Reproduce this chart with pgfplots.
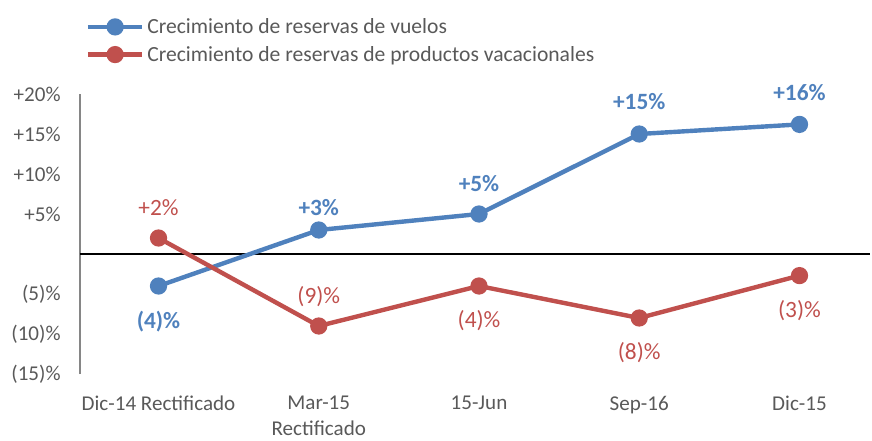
\documentclass[border=0pt]{standalone}
\usepackage{fontspec}
\setmainfont{Carlito}
\usepackage{pgfplots}
\usepackage{pgfplotstable}
\pgfplotsset{compat=1.18}
\definecolor{cblue}{HTML}{4F81BD}
\definecolor{cred}{HTML}{C0504D}
\definecolor{ctext}{HTML}{595959}
\definecolor{caxis}{HTML}{868686}

% x, value, label, vertical offset of label (pt)
\pgfplotstableread{
x y lab dy
0 -4 (4)\% -27
1 3 +3\% 17
2 5 +5\% 23
3 15 +15\% 24
4 16.2 +16\% 24
}\vuelos
\pgfplotstableread{
x y lab dy
0 2 +2\% 23
1 -9 (9)\% 22
2 -4 (4)\% -26
3 -8 (8)\% -26
4 -2.7 (3)\% -26
}\vacaciones

\begin{document}
\begin{tikzpicture}
\begin{axis}[
  at={(0,0)}, anchor=south west,
  scale only axis, width=592.5pt, height=210pt,
  xmin=-0.49, xmax=4.44, ymin=-15, ymax=20,
  axis y line=left, axis x line=bottom,
  x axis line style={draw=none},
  y axis line style={draw=caxis, line width=0.9pt, -},
  xtick={0,1,2,3,4}, major tick length=0pt,
  xticklabels={Dic-14 Rectificado, Mar-15\\Rectificado, 15-Jun, Sep-16, Dic-15},
  xticklabel style={align=center, text=ctext, font=\fontsize{15.8pt}{19.5pt}\selectfont, yshift=-13pt},
  ytick={-15,-10,-5,5,10,15,20},
  yticklabels={(15)\%,(10)\%,(5)\%,+5\%,+10\%,+15\%,+20\%},
  yticklabel style={text=ctext, font=\fontsize{15.8pt}{19pt}\selectfont, xshift=-11pt},
  extra y ticks={0}, extra y tick labels={},
  extra y tick style={grid=major, grid style={black, line width=1.5pt}},
  clip=false,
  legend style={at={(0,1)}, anchor=south west, xshift=4pt, yshift=21pt,
    draw=none, fill=none, font=\fontsize{16.2pt}{18pt}\selectfont, text=ctext,
    row sep=4pt, inner sep=0pt},
  legend cell align=left,
  legend image code/.code={
    \draw[#1, mark=none] (0pt,0pt) -- (41pt,0pt);
    \draw[#1, only marks] plot coordinates {(20.5pt,0pt)};
  },
  nodes near coords,
  point meta=explicit symbolic,
  visualization depends on={\thisrow{dy} \as \dy},
  every node near coord/.append style={anchor=center, yshift=\dy, font=\fontsize{17.5pt}{20pt}\selectfont},
]
\addplot[cblue, line width=3.3pt, mark=*, mark size=4.8pt,
  every node near coord/.append style={text=cblue, font=\fontsize{17.5pt}{20pt}\selectfont\bfseries}]
  table[x=x, y=y, meta=lab] {\vuelos};
\addlegendentry{Crecimiento de reservas de vuelos}
\addplot[cred, line width=3.3pt, mark=*, mark size=4.8pt,
  every node near coord/.append style={text=cred}]
  table[x=x, y=y, meta=lab] {\vacaciones};
\addlegendentry{Crecimiento de reservas de productos vacacionales}
\end{axis}
\path[use as bounding box] (-60pt,-46.5pt) rectangle (594pt,280.5pt);
\end{tikzpicture}
\end{document}
